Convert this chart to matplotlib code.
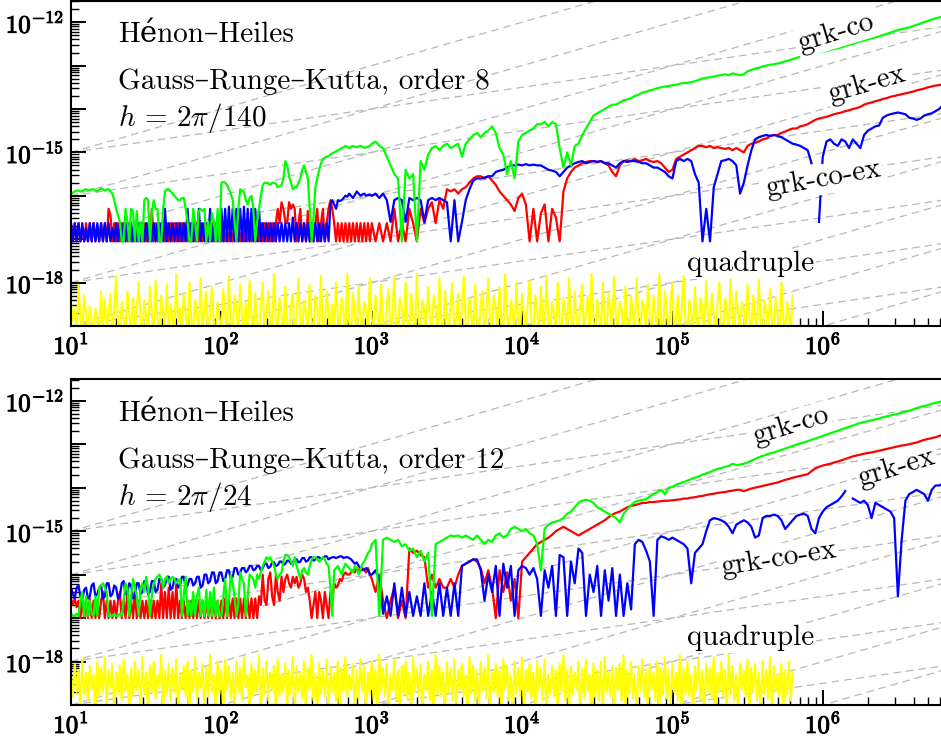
import numpy as np
import matplotlib
matplotlib.use("Agg")
import matplotlib.pyplot as plt
from matplotlib import patheffects
from matplotlib.ticker import LogLocator, FuncFormatter, NullFormatter

plt.rcParams['font.family'] = ['cmr10', 'DejaVu Serif']
plt.rcParams['mathtext.fontset'] = 'cm'
plt.rcParams['axes.unicode_minus'] = False

T_END = 2 * np.pi * 1e6       # 10^6 periods
T_END_QUAD = 2 * np.pi * 1e5  # quadruple run is 10x shorter

# log10 of the relative energy error.
# *_head: t from 10^1 to 10^2.99 (fine log grid, the noisy part)
# *_tail: t from 10^3 to the end
# ---------------- order 8, h = 2pi/140 ----------------
co_8_head = [
    -15.95, -15.93, -15.9, -15.88, -15.88, -15.9, -15.9, -15.86, -15.85, -15.87, -15.87, -15.85, -15.85, -15.88, -15.9, -15.86, -15.83, -15.85, -15.88, -15.85,
    -15.85, -15.9, -15.95, -16.1, -16.3, -16.45, -16.6, -17.05, -17.05, -16.3, -16.6, -17.05, -16.3, -16.35, -17.05, -16.35, -17.05, -16.6, -17.05, -16.1,
    -16.05, -16.1, -17.05, -16.4, -16.1, -16.3, -16.3, -17.05, -17.05, -16.3, -15.9, -15.85, -15.85, -15.9, -15.95, -16.0, -16.05, -16.1, -16.1, -16.05,
    -16.05, -16.3, -16.6, -17.05, -17.05, -16.3, -16.6, -17.05, -16.35, -16.3, -16.35, -16.3, -17.05, -16.6, -17.05, -16.4, -16.6, -17.05, -16.3, -17.05,
    -15.7, -15.68, -15.7, -15.75, -15.85, -15.95, -16.1, -16.6, -17.05, -16.3, -15.85, -15.9, -15.9, -16.1, -16.2, -16.05, -16.0, -16.3, -17.05, -16.6,
    -16.3, -16.0, -15.75, -15.7, -15.7, -15.72, -15.75, -15.7, -15.7, -15.72, -15.8, -15.78, -15.75, -15.6, -15.2, -15.3, -15.55, -15.7, -15.85, -15.8,
    -15.8, -15.7, -15.6, -15.4, -15.3, -15.45, -15.6, -16.3, -17.05, -16.5, -15.8, -15.6, -15.4, -15.25, -15.15, -15.12, -15.1, -15.08, -15.05, -15.02,
    -15.0, -14.98, -14.95, -14.93, -14.9, -14.88, -14.85, -14.88, -14.9, -14.87, -14.85, -14.87, -14.88, -14.86, -14.85, -14.87, -14.9, -14.88, -14.87, -14.85,
]
co_8_tail = [
    -14.8, -14.75, -14.85, -14.9, -15.1, -15.3, -15.5, -15.6, -17.05, -15.4, -15.6, -15.5, -17.05, -15.2, -15.4, -15.05, -14.9, -14.85, -14.95, -14.85,
    -14.8, -14.9, -14.85, -14.8, -15.1, -14.8, -14.7, -14.6, -14.55, -14.65, -14.55, -14.5, -14.4, -14.55, -14.9, -15.05, -15.5, -15.2, -15.6, -14.75,
    -14.6, -14.55, -14.5, -14.45, -14.35, -14.35, -14.3, -14.4, -14.3, -14.35, -14.9, -15.35, -15.0, -15.3, -14.85, -14.8, -14.6, -14.45, -14.3, -14.15,
    -14.1, -14.05, -14.0, -13.95, -13.9, -13.9, -13.85, -13.8, -13.78, -13.75, -13.7, -13.67, -13.62, -13.6, -13.57, -13.55, -13.52, -13.5, -13.48, -13.47,
    -13.45, -13.44, -13.42, -13.4, -13.4, -13.38, -13.36, -13.33, -13.3, -13.28, -13.27, -13.25, -13.23, -13.22, -13.2, -13.22, -13.18, -13.2, -13.22, -13.2,
    -13.13, -13.1, -13.07, -13.05, -13.02, -13.0, -12.98, -12.97, -12.95, -12.93, -12.9, -12.88, -12.85, -12.82, -12.8, -12.78, -12.76, -12.74, -12.72, -12.7,
    -12.68, -12.66, -12.64, -12.62, -12.6, -12.58, -12.55, -12.52, -12.5, -12.47, -12.44, -12.42, -12.4, -12.37, -12.35, -12.32, -12.3, -12.27, -12.24, -12.21,
    -12.18, -12.16, -12.14, -12.12, -12.09, -12.06, -12.03, -12.0, -11.97, -11.94, -11.91, -11.89, -11.87,
]
ex_8_head = [
    -16.63, -17.05, -16.63, -17.05, -16.63, -17.05, -16.75, -17.05, -16.63, -17.05, -16.63, -17.05, -16.63, -17.05, -16.75, -17.05, -16.63, -17.05, -16.63, -17.05,
    -16.3, -16.45, -17.05, -16.63, -17.05, -16.63, -17.05, -16.63, -17.05, -16.63, -17.05, -16.63, -17.05, -16.75, -17.05, -16.63, -17.05, -16.63, -17.05, -16.63,
    -17.05, -16.63, -17.05, -16.3, -17.05, -16.63, -17.05, -16.63, -17.05, -16.63, -17.05, -16.63, -17.05, -16.63, -17.05, -16.63, -17.05, -16.63, -17.05, -16.63,
    -17.05, -16.63, -17.05, -16.63, -17.05, -16.63, -17.05, -16.63, -17.05, -16.63, -17.05, -16.63, -17.05, -16.63, -17.05, -16.63, -17.05, -16.63, -17.05, -16.63,
    -17.05, -16.75, -17.05, -16.75, -17.05, -16.75, -17.05, -16.75, -17.05, -16.75, -17.05, -16.75, -17.05, -16.63, -17.05, -16.63, -17.05, -16.63, -17.05, -16.63,
    -17.05, -16.63, -17.05, -16.63, -17.05, -16.63, -17.05, -16.63, -17.05, -16.63, -16.3, -16.63, -16.15, -16.3, -16.6, -16.63, -16.15, -16.3, -16.2, -16.3,
    -17.05, -16.63, -16.3, -17.05, -16.63, -17.05, -16.35, -17.05, -16.63, -17.05, -16.63, -16.3, -17.05, -16.63, -16.3, -17.05, -16.63, -16.3, -16.1, -16.3,
    -16.63, -17.05, -16.63, -17.05, -16.63, -17.05, -16.63, -17.05, -16.63, -17.05, -16.63, -17.05, -16.63, -17.05, -16.63, -17.05, -16.63, -17.05, -16.63, -17.05,
]
ex_8_tail = [
    -16.63, -17.05, -16.63, -17.05, -16.63, -17.05, -16.3, -17.05, -16.63, -17.05, -16.3, -16.63, -17.05, -16.3, -16.63, -16.3, -16.15, -16.63, -16.1, -16.3,
    -15.85, -15.9, -15.85, -15.95, -15.85, -15.8, -15.7, -15.6, -15.55, -15.55, -15.6, -15.55, -15.65, -15.75, -15.9, -16.0, -16.1, -16.2, -16.35, -16.05,
    -15.95, -16.2, -17.05, -16.3, -17.05, -16.4, -16.2, -17.05, -16.3, -16.5, -17.05, -15.9, -15.6, -15.45, -15.35, -15.3, -15.25, -15.22, -15.2, -15.2,
    -15.22, -15.2, -15.25, -15.3, -15.45, -15.55, -15.3, -15.2, -15.18, -15.2, -15.15, -15.2, -15.18, -15.15, -15.2, -15.22, -15.2, -15.25, -15.35, -15.45,
    -15.4, -15.15, -15.1, -15.05, -15.0, -14.95, -14.9, -14.85, -14.85, -14.88, -14.85, -14.9, -14.88, -14.9, -14.92, -14.9, -14.95, -14.9, -14.95, -15.0,
    -14.85, -14.8, -14.78, -14.75, -14.7, -14.68, -14.62, -14.6, -14.6, -14.55, -14.52, -14.48, -14.45, -14.45, -14.4, -14.38, -14.35, -14.3, -14.25, -14.22,
    -14.2, -14.18, -14.15, -14.12, -14.1, -14.08, -14.05, -14.03, -14.0, -13.98, -13.95, -13.9, -13.87, -13.85, -13.82, -13.8, -13.77, -13.75, -13.72, -13.7,
    -13.68, -13.66, -13.64, -13.62, -13.6, -13.57, -13.55, -13.53, -13.5, -13.48, -13.46, -13.45, -13.43,
]
coex_8_head = [
    -16.63, -17.05, -16.63, -17.05, -16.63, -17.05, -16.63, -17.05, -16.75, -17.05, -16.63, -17.05, -16.63, -17.05, -16.63, -17.05, -16.63, -17.05, -16.63, -17.05,
    -16.63, -17.05, -16.75, -17.05, -16.63, -17.05, -16.63, -17.05, -16.63, -17.05, -16.63, -17.05, -16.63, -17.05, -16.75, -17.05, -16.63, -17.05, -16.63, -17.05,
    -16.63, -17.05, -16.63, -17.05, -16.63, -17.05, -16.63, -17.05, -16.63, -17.05, -16.3, -17.05, -16.63, -17.05, -16.63, -17.05, -16.63, -17.05, -16.63, -17.05,
    -16.63, -17.05, -16.3, -17.05, -16.63, -17.05, -16.63, -17.05, -16.3, -17.05, -16.63, -17.05, -16.63, -17.05, -16.3, -17.05, -16.63, -17.05, -16.63, -17.05,
    -16.3, -17.05, -16.3, -17.05, -16.25, -17.05, -16.3, -17.05, -16.3, -17.05, -16.3, -17.05, -16.25, -17.05, -16.3, -17.05, -16.3, -17.05, -16.3, -17.05,
    -16.3, -17.05, -16.63, -17.05, -16.63, -17.05, -16.63, -17.05, -16.63, -17.05, -16.63, -17.05, -16.63, -17.05, -16.63, -17.05, -16.63, -17.05, -16.5, -17.05,
    -16.63, -17.05, -16.63, -17.05, -16.63, -17.05, -16.63, -17.05, -16.63, -17.05, -16.63, -17.05, -16.63, -17.05, -16.63, -17.05, -16.63, -17.05, -16.2, -16.1,
    -16.2, -16.3, -16.1, -16.12, -16.1, -16.05, -16.0, -16.02, -15.95, -16.0, -16.05, -15.98, -15.9, -15.95, -16.0, -15.97, -15.95, -16.0, -15.98, -15.97,
]
coex_8_tail = [
    -16.0, -15.95, -16.05, -15.95, -16.1, -16.6, -16.1, -16.05, -16.1, -16.6, -16.05, -16.1, -16.05, -16.1, -16.6, -16.1, -16.05, -16.1, -16.05, -16.1,
    -16.15, -17.05, -16.1, -17.05, -16.6, -16.1, -15.85, -15.65, -15.6, -15.6, -15.58, -15.55, -15.55, -15.45, -15.42, -15.4, -15.35, -15.3, -15.3, -15.28,
    -15.3, -15.27, -15.3, -15.28, -15.3, -15.3, -15.35, -15.4, -15.42, -15.45, -15.55, -15.45, -15.35, -15.3, -15.25, -15.22, -15.2, -15.25, -15.22, -15.2,
    -15.22, -15.2, -15.25, -15.25, -15.3, -15.35, -15.25, -15.2, -15.22, -15.2, -15.2, -15.22, -15.25, -15.25, -15.3, -15.35, -15.35, -15.4, -15.45, -15.55,
    -15.6, -15.2, -15.15, -15.2, -15.15, -15.2, -15.5, -15.7, -17.05, -16.3, -17.05, -15.8, -15.5, -15.2, -15.18, -15.15, -15.2, -15.3, -15.95, -15.7,
    -15.3, -14.95, -14.7, -14.65, -14.62, -14.6, -14.62, -14.6, -14.62, -14.65, -14.7, -14.75, -14.8, -14.82, -14.85, -14.9, -14.95, -15.25, np.nan, -16.6,
    -15.1, -14.75, -14.7, -14.8, -14.85, -14.7, -14.75, -14.9, -14.7, -14.8, -14.9, -14.6, -14.5, -14.45, -14.4, -14.38, -14.2, -14.15, -14.12, -14.1,
    -14.08, -14.1, -14.12, -14.2, -14.22, -14.25, -14.22, -14.15, -14.12, -14.1, -14.05, -14.0, -13.9,
]
quad_8 = [
    -18.45, -18.9, -18.6, -19.2, -18.05, -18.8, -19.2, -18.3, -18.7, -19.2, -18.55, -18.9, -19.2, -18.6, -18.85, -19.2, -18.2, -19.0, -18.4, -19.2,
    -18.7, -18.25, -19.2, -18.6, -17.85, -18.95, -19.2, -18.45, -18.8, -19.2, -18.2, -18.75, -19.1, -18.35, -19.2, -18.6, -18.0, -18.9, -19.2, -18.4,
    -18.8, -19.2, -18.1, -18.7, -19.2, -17.95, -18.85, -19.2, -18.3, -18.65, -19.0, -18.05, -19.2, -18.5, -18.8, -19.2, -17.8, -18.9, -18.6, -19.2,
    -18.25, -18.7, -19.2, -18.0, -18.85, -19.2, -18.4, -18.75, -19.1, -17.9, -19.2, -18.55, -18.2, -19.2, -18.7, -18.1, -18.95, -19.2, -18.45, -18.8,
    -19.2, -18.15, -18.7, -19.2, -17.85, -18.9, -19.2, -18.3, -18.6, -19.2, -18.05, -18.8, -19.1, -18.45, -19.2, -17.95, -18.75, -19.2, -18.25, -18.9,
    -19.2, -18.5, -18.0, -19.2, -18.7, -18.2, -18.95, -19.2, -17.8, -18.85, -19.2, -18.35, -18.7, -19.2, -18.1, -18.9, -19.2, -18.55, -18.25, -19.2,
    -18.8, -17.9, -18.9, -19.2, -18.4, -18.7, -19.2, -18.05, -18.85, -19.2, -18.3, -18.6, -19.2, -17.85, -18.95, -19.2, -18.2, -18.75, -19.1, -18.5,
    -19.2, -18.0, -18.8, -19.2, -18.35, -18.65, -19.2, -17.8, -18.9, -19.2, -18.25, -18.7, -19.2, -18.1, -18.85, -19.2, -18.45, -18.6, -19.2, -17.9,
    -18.8, -19.2, -18.3, -18.7, -19.2, -18.05, -18.9, -19.2, -18.5, -18.15, -19.2, -18.75, -17.85, -19.0, -19.2, -18.35, -18.6, -19.2, -18.0, -18.85,
    -19.2, -18.25, -18.7, -19.2, -17.8, -18.9, -19.2, -18.4, -18.65, -19.2, -18.1, -18.8, -19.2, -18.3, -18.55, -19.2, -17.9, -18.85, -19.2, -18.2,
    -18.7, -19.2, -18.45, -18.0, -19.2, -18.8, -18.25, -19.2, -18.6, -17.85, -18.95, -19.2, -18.35, -18.7, -19.2, -18.05, -18.8, -19.2, -18.5, -18.2,
    -19.2, -18.75, -17.9, -18.9, -19.2, -18.3, -18.6, -19.2, -18.1, -18.85, -19.2, -17.8, -18.7, -19.2, -18.4, -18.65, -19.2, -18.0, -18.9, -19.2,
    -18.25, -18.75, -19.2, -18.5, -17.95, -18.85, -19.2, -18.3, -18.6, -19.2, -18.1, -18.8, -19.2, -17.85, -18.9, -19.2, -18.45, -18.7, -19.2, -18.0,
    -18.85, -19.2, -18.35, -18.6, -19.2, -17.9, -18.75, -19.2, -18.2, -18.9, -19.2, -18.5, -18.05, -19.2, -18.7, -18.3, -19.2, -17.8, -18.85, -19.2,
    -18.4, -18.7, -19.2, -18.0, -18.9, -19.2, -18.25, -18.65, -19.2, -17.85, -18.8, -19.2, -18.45, -18.6, -19.2, -18.1, -18.9, -19.2, -18.3, -18.75,
    -19.2, -17.9, -18.85, -19.2, -18.4, -18.6, -19.2, -18.05, -18.8, -19.2, -18.3, -18.7, -19.2, -17.8, -18.9, -19.2, -18.2, -18.65, -19.2, -18.5,
    -18.0, -19.2, -18.75, -18.3, -19.2, -18.6, -17.85, -18.9, -19.2, -18.4, -18.7, -19.2, -18.1, -18.85, -19.2, -18.35, -18.6, -19.2, -17.95, -18.8,
    -19.2, -18.25, -18.7, -19.2, -18.5, -18.0, -18.9, -19.2, -18.35, -18.65, -19.2, -17.8, -18.85, -19.2, -18.2, -18.75, -19.2, -18.45, -18.6, -19.2,
    -18.05, -18.8, -19.2, -18.3, -18.7, -19.2, -17.9, -18.85, -19.2, -18.4, -18.65, -19.2, -18.15, -18.9, -19.2, -18.35, -18.7, -19.2, -18.0, -18.8,
    -19.2, -18.45, -18.7, -19.2, -18.3,
]

# ---------------- order 12, h = 2pi/24 ----------------
co_12_head = [
    -16.9, -16.95, -16.95, -16.9, -16.95, -16.6, -16.4, -16.95, -16.5, -16.95, -16.6, -16.9, -16.95, -16.5, -16.95, -16.3, -16.25, -16.2, -16.3, -16.4,
    -16.95, -16.95, -16.95, -16.9, -16.95, -16.95, -16.9, -16.95, -16.6, -16.2, -16.3, -16.95, -16.5, -16.1, -16.3, -16.5, -16.95, -16.3, -16.2, -16.4,
    -16.05, -16.3, -16.95, -16.5, -16.2, -16.1, -16.05, -16.0, -16.1, -16.3, -16.1, -16.05, -16.2, -16.1, -16.05, -16.1, -16.2, -16.15, -16.1, -16.95,
    -16.5, -16.05, -16.95, -16.6, -16.95, -16.4, -16.95, -16.5, -16.3, -16.95, -16.6, -16.95, -16.35, -16.95, -16.4, -16.95, -16.3, -16.95, -16.6, -16.95,
    -16.95, -16.5, -16.1, -16.95, -16.6, -16.0, -16.2, -16.5, -16.95, -16.7, -15.95, -16.1, -16.2, -16.95, -16.5, -16.0, -16.05, -16.1, -16.3, -16.0,
    -16.1, -15.95, -15.8, -15.7, -15.6, -15.65, -15.6, -15.7, -15.8, -16.0, -16.1, -16.0, -15.95, -15.7, -15.55, -15.55, -15.6, -15.7, -15.8, -15.6,
    -15.8, -15.95, -16.1, -15.9, -15.85, -15.95, -16.0, -15.8, -15.65, -15.6, -15.6, -15.65, -15.7, -15.65, -15.6, -15.65, -15.75, -15.8, -16.3, -16.95,
    -15.9, -15.85, -15.8, -15.9, -16.0, -15.85, -15.75, -15.8, -15.85, -15.9, -15.95, -15.8, -15.85, -16.0, -15.9, -15.75, -15.7, -15.6, -15.5, -15.45,
]
co_12_tail = [
    -15.3, -15.2, -16.95, -15.2, -15.15, -15.2, -15.25, -15.2, -15.35, -15.3, -15.45, -15.4, -15.6, -15.45, -15.7, -15.5, -16.95, -15.3, -15.25, -15.2,
    -15.15, -15.1, -15.12, -15.1, -15.15, -15.1, -15.15, -15.2, -15.1, -15.2, -15.3, -15.2, -15.25, -15.1, -15.05, -15.15, -15.1, -14.95, -14.9, -14.95,
    -15.0, -14.95, -15.05, -15.1, -15.3, -15.9, -14.95, -14.85, -14.8, -14.78, -14.75, -14.7, -14.6, -14.55, -14.45, -14.35, -14.3, -14.28, -14.3, -14.35,
    -14.45, -14.5, -14.55, -14.6, -14.65, -14.7, -14.8, -14.6, -14.5, -14.4, -14.33, -14.3, -14.28, -14.27, -14.2, -14.15, -14.1, -14.05, -14.15, -14.0,
    -13.98, -13.93, -13.9, -13.87, -13.84, -13.8, -13.77, -13.74, -13.7, -13.67, -13.64, -13.6, -13.57, -13.55, -13.52, -13.5, -13.45, -13.48, -13.47, -13.45,
    -13.42, -13.38, -13.34, -13.3, -13.27, -13.24, -13.21, -13.19, -13.16, -13.13, -13.1, -13.07, -13.04, -13.01, -12.98, -12.96, -12.93, -12.9, -12.87, -12.84,
    -12.81, -12.78, -12.75, -12.72, -12.69, -12.66, -12.63, -12.6, -12.57, -12.54, -12.51, -12.49, -12.47, -12.45, -12.43, -12.41, -12.38, -12.36, -12.34, -12.32,
    -12.3, -12.28, -12.25, -12.23, -12.2, -12.17, -12.14, -12.12, -12.1, -12.07, -12.05, -12.03, -12.0,
]
ex_12_head = [
    -16.55, -16.7, -16.55, -16.75, -16.6, -17.0, -16.6, -17.0, -16.6, -17.0, -16.55, -17.0, -16.6, -17.0, -16.6, -17.0, -16.6, -16.4, -17.0, -16.6,
    -17.0, -16.6, -17.0, -16.6, -17.0, -16.6, -16.4, -17.0, -16.6, -17.0, -16.4, -17.0, -16.6, -17.0, -16.4, -17.0, -16.6, -17.0, -16.6, -17.0,
    -16.6, -17.0, -16.6, -17.0, -16.6, -17.0, -16.6, -17.0, -16.2, -17.0, -16.4, -17.0, -16.3, -17.0, -16.4, -17.0, -16.2, -17.0, -16.6, -17.0,
    -16.6, -17.0, -16.6, -17.0, -16.6, -17.0, -16.6, -17.0, -16.6, -17.0, -16.6, -17.0, -16.6, -17.0, -16.6, -17.0, -16.6, -17.0, -16.6, -17.0,
    -16.6, -17.0, -16.55, -17.0, -16.55, -17.0, -16.55, -17.0, -16.55, -17.0, -16.55, -17.0, -16.55, -17.0, -16.55, -17.0, -16.55, -17.0, -16.55, -17.0,
    -16.5, -16.7, -16.0, -16.6, -16.7, -16.1, -15.95, -16.5, -16.7, -16.0, -16.4, -16.6, -16.05, -16.4, -16.1, -16.0, -16.2, -16.3, -16.05, -16.2,
    -16.05, -16.3, -16.2, -16.0, -16.1, -16.4, -16.3, -16.6, -17.0, -16.7, -16.4, -17.0, -16.4, -16.6, -17.0, -16.4, -16.7, -17.0, -16.4, -16.6,
    -16.2, -16.3, -16.25, -16.1, -16.15, -16.0, -15.95, -16.0, -16.0, -15.95, -15.9, -15.95, -15.85, -15.9, -15.9, -15.85, -15.9, -15.95, -15.85, -16.0,
]
ex_12_tail = [
    -16.1, -16.4, -16.0, -16.6, -17.0, -16.6, -16.3, -17.0, -16.6, -17.0, -15.4, -15.5, -15.45, -15.55, -15.6, -16.3, -16.0, -16.3, -16.1, -16.3,
    -16.3, -16.1, -16.3, -16.0, -15.8, -15.75, -15.7, -15.65, -15.7, -15.85, -16.2, -15.9, -16.3, -17.0, -15.9, -16.4, -15.95, -16.6, -16.1, -17.0,
    -15.7, -15.6, -15.5, -15.4, -15.3, -15.25, -15.2, -15.15, -15.08, -15.0, -14.95, -14.9, -14.95, -15.0, -15.05, -15.1, -15.05, -15.0, -14.95, -14.9,
    -14.85, -14.8, -14.75, -14.68, -14.62, -14.58, -14.55, -14.5, -14.45, -14.42, -14.4, -14.38, -14.35, -14.35, -14.33, -14.33, -14.32, -14.31, -14.3, -14.3,
    -14.29, -14.28, -14.27, -14.25, -14.25, -14.23, -14.22, -14.2, -14.19, -14.17, -14.15, -14.14, -14.12, -14.11, -14.1, -14.08, -14.07, -14.05, -14.05, -14.08,
    -14.05, -14.02, -14.0, -13.98, -13.96, -13.94, -13.92, -13.9, -13.88, -13.85, -13.82, -13.8, -13.77, -13.75, -13.73, -13.71, -13.69, -13.62, -13.56, -13.52,
    -13.49, -13.47, -13.45, -13.42, -13.4, -13.37, -13.34, -13.31, -13.28, -13.26, -13.24, -13.22, -13.2, -13.19, -13.17, -13.15, -13.13, -13.11, -13.09, -13.07,
    -13.05, -13.03, -13.02, -13.0, -12.98, -12.96, -12.93, -12.9, -12.88, -12.86, -12.84, -12.81, -12.78,
]
coex_12_head = [
    -16.3, -16.45, -16.55, -16.3, -16.25, -16.5, -16.6, -16.35, -16.3, -16.55, -16.5, -16.25, -16.2, -16.5, -16.45, -16.3, -16.25, -16.55, -16.5, -16.2,
    -16.2, -16.5, -16.45, -16.25, -16.3, -16.55, -16.5, -16.2, -16.15, -16.45, -16.4, -16.2, -16.25, -16.55, -16.5, -16.2, -16.2, -16.45, -16.4, -16.15,
    -16.2, -16.45, -16.4, -16.15, -16.15, -16.4, -16.35, -16.1, -16.1, -16.3, -16.25, -16.05, -16.05, -16.35, -16.3, -16.1, -16.1, -16.3, -16.25, -16.05,
    -16.05, -16.3, -16.25, -16.1, -16.1, -16.25, -16.2, -16.05, -16.05, -16.3, -16.25, -16.0, -16.0, -16.2, -16.15, -15.95, -15.95, -16.2, -16.15, -15.95,
    -15.95, -16.15, -16.1, -15.9, -15.9, -16.1, -16.05, -15.85, -15.85, -16.0, -15.95, -15.85, -15.85, -15.95, -15.9, -15.8, -15.8, -15.9, -15.88, -15.8,
    -15.8, -15.9, -15.85, -15.75, -15.75, -15.85, -15.82, -15.72, -15.72, -15.8, -15.78, -15.7, -15.7, -15.78, -15.75, -15.68, -15.68, -15.75, -15.72, -15.65,
    -15.65, -15.72, -15.7, -15.62, -15.62, -15.7, -15.68, -15.6, -15.6, -15.68, -15.65, -15.6, -15.6, -15.65, -15.62, -15.58, -15.58, -15.65, -15.62, -15.6,
    -15.6, -15.62, -15.6, -15.58, -15.58, -15.62, -15.6, -15.6, -15.62, -15.65, -15.7, -15.75, -15.72, -15.8, -15.85, -15.9, -15.88, -15.85, -15.9, -16.0,
]
coex_12_tail = [
    -16.0, -15.9, -16.1, -16.9, -16.5, -16.95, -16.2, -16.95, -16.3, -16.95, -16.4, -16.95, -16.5, -16.95, -16.2, -16.95, -16.4, -16.95, -16.2, -16.95,
    -16.3, -16.95, -16.2, -16.95, -15.8, -15.75, -15.7, -15.65, -15.65, -15.9, -16.6, -16.0, -16.4, -15.8, -16.95, -15.75, -16.3, -15.8, -16.95, -15.9,
    -15.8, -15.85, -16.0, -15.85, -16.1, -16.95, -15.9, -16.3, -15.8, -16.95, -15.55, -15.6, -16.95, -15.7, -16.2, -15.4, -15.5, -16.95, -16.0, -16.4,
    -15.8, -16.95, -15.9, -16.6, -15.85, -16.95, -16.0, -16.95, -16.2, -16.8, -15.3, -15.2, -15.25, -15.45, -15.7, -16.95, -15.2, -15.12, -15.15, -15.2,
    -15.15, -15.2, -15.25, -15.3, -15.4, -16.2, -15.5, -15.4, -15.3, -15.0, -14.75, -14.7, -14.72, -14.75, -14.8, -14.9, -15.05, -14.85, -14.8, -14.75,
    -14.8, -14.9, -15.15, -15.1, -14.7, -14.65, -14.65, -14.62, -14.65, -14.75, -14.95, -14.85, -14.75, -14.65, -14.62, -14.6, -14.65, -14.95, -15.05, -14.7,
    -14.55, -14.45, -14.4, -14.35, -14.3, -14.2, -14.08, np.nan, -14.25, -14.3, -14.35, -14.3, -14.4, -14.7, -14.35, -14.4, -14.45, -14.5, -14.55, -14.7,
    -16.5, -15.2, -14.3, -14.15, -14.1, -14.05, -14.1, -14.15, -14.3, -14.05, -13.95, -13.95, -13.9,
]
quad_12 = [
    -18.3, -18.8, -18.05, -18.7, -18.2, -19.2, -17.95, -18.75, -18.25, -18.9, -18.1, -18.65, -18.3, -19.2, -18.0, -18.8, -18.15, -18.7, -17.9, -19.0,
    -18.2, -18.6, -18.05, -19.2, -18.25, -18.75, -18.1, -18.9, -17.95, -18.7, -18.3, -19.2, -18.15, -18.8, -18.0, -18.65, -18.2, -19.1, -17.9, -18.75,
    -18.25, -19.2, -18.1, -18.7, -18.0, -18.85, -18.3, -18.6, -17.85, -19.2, -18.2, -18.75, -18.05, -18.9, -18.15, -18.7, -17.95, -19.2, -18.3, -18.65,
    -18.1, -18.8, -18.0, -19.2, -18.2, -18.7, -17.9, -18.9, -18.25, -18.6, -18.05, -19.2, -18.15, -18.8, -17.85, -18.7, -18.3, -19.0, -18.0, -18.75,
    -18.2, -19.2, -17.95, -18.65, -18.1, -18.85, -18.25, -19.2, -18.0, -18.7, -18.15, -18.9, -17.9, -18.6, -18.3, -19.2, -18.05, -18.8, -18.2, -18.7,
    -17.85, -19.2, -18.15, -18.75, -18.0, -18.9, -18.25, -18.65, -18.1, -19.2, -17.95, -18.8, -18.3, -18.7, -18.05, -19.1, -18.2, -18.75, -17.9, -19.2,
    -18.1, -18.7, -18.25, -18.85, -18.0, -19.2, -18.15, -18.65, -17.85, -18.9, -18.3, -19.2, -18.05, -18.75, -18.2, -18.8, -17.95, -19.2, -18.1, -18.7,
    -18.25, -18.9, -18.0, -19.2, -18.15, -18.7, -17.9, -18.8, -18.3, -18.65, -18.05, -19.2, -18.2, -18.85, -17.95, -18.7, -18.1, -19.2, -18.25, -18.75,
    -18.0, -18.9, -18.2, -19.2, -17.85, -18.7, -18.15, -18.8, -18.05, -19.2, -18.3, -18.65, -17.95, -18.9, -18.2, -19.2, -18.1, -18.75, -18.0, -18.85,
    -18.25, -19.2, -17.9, -18.7, -18.15, -18.8, -18.05, -19.2, -18.3, -18.65, -18.0, -18.9, -18.2, -19.2, -17.85, -18.75, -18.1, -18.8, -18.25, -19.2,
    -18.0, -18.7, -18.15, -18.9, -17.95, -19.2, -18.2, -18.65, -18.05, -18.8, -18.3, -19.2, -17.9, -18.75, -18.1, -18.9, -18.2, -19.2, -18.0, -18.7,
    -18.15, -18.85, -17.85, -19.2, -18.25, -18.7, -18.05, -18.8, -18.2, -19.2, -17.95, -18.65, -18.1, -18.9, -18.3, -19.2, -18.0, -18.75, -18.15, -18.8,
    -17.9, -19.2, -18.2, -18.7, -18.05, -18.85, -18.25, -19.2, -18.0, -18.65, -18.15, -18.9, -17.95, -19.2, -18.3, -18.75, -18.1, -18.8, -18.2, -19.2,
    -18.05, -18.7, -17.85, -18.9, -18.2, -19.2, -18.1, -18.75, -18.25, -18.65, -18.0, -19.2, -18.15, -18.85, -17.95, -18.7, -18.3, -19.2, -18.05, -18.8,
    -18.2, -18.9, -18.0, -19.2, -17.9, -18.7, -18.25, -18.8, -18.1, -19.2, -18.15, -18.65, -18.05, -18.9, -17.85, -19.2, -18.2, -18.75, -18.0, -18.85,
    -18.3, -19.2, -18.1, -18.7, -17.95, -18.8, -18.2, -19.2, -18.05, -18.65, -18.25, -18.9, -18.0, -19.2, -18.15, -18.75, -17.9, -18.85, -18.2, -19.2,
    -18.05, -18.7, -18.25, -18.9, -17.85, -19.2, -18.15, -18.75, -18.0, -18.8, -18.3, -19.2, -18.1, -18.65, -17.95, -18.9, -18.2, -19.2, -18.05, -18.7,
    -18.15, -18.85, -17.9, -19.2, -18.25, -18.7, -18.0, -18.8, -18.2, -19.2, -17.85, -18.75, -18.1, -18.9, -18.3, -19.2, -18.05, -18.65, -18.2, -18.8,
    -17.95, -19.2, -18.15, -18.7, -18.05, -18.9, -18.25, -19.2, -18.0, -18.75, -18.2, -18.85, -17.9, -19.2, -18.1, -18.7, -18.3, -18.8, -18.05, -19.2,
    -18.2, -18.75, -18.0, -18.9, -18.25,
]

panels = [
    dict(series=[(ex_8_head, ex_8_tail), (coex_8_head, coex_8_tail), (co_8_head, co_8_tail)],
         quad=quad_8, order=8, step='2\\pi/140',
         labels=[('grk-co', 1.22e6, -12.24, 17), ('grk-ex', 1.96e6, -13.43, 16),
                 ('grk-co-ex', 1.0e6, -15.62, 10)], quad_lab=(3.3e5, -17.74)),
    dict(series=[(ex_12_head, ex_12_tail), (coex_12_head, coex_12_tail), (co_12_head, co_12_tail)],
         quad=quad_12, order=12, step='2\\pi/24',
         labels=[('grk-co', 6.1e5, -12.59, 17), ('grk-ex', 3.1e6, -13.55, 17),
                 ('grk-co-ex', 5.1e5, -15.64, 9)], quad_lab=(3.3e5, -17.62)),
]
colors = ['#ff0000', '#0000ff', '#00ff00']

# reference lines c*t^(1/2) and c*t through every decade at t = 10
ref_decades = np.arange(-25, -14)
ref_powers = [0.5, 1.0]

fig = plt.figure(figsize=(9.41, 7.40), dpi=100)
rects = [[71 / 941, 414 / 740, 872 / 941, 325.5 / 740],
         [71 / 941, 35 / 740, 872 / 941, 326 / 740]]


def ylab(v, pos):
    e = int(round(np.log10(v)))
    return r'$\mathbf{10^{%d}}$' % e if e in (-12, -15, -18) else ''


def xlab(v, pos):
    return r'$\mathbf{10^{%d}}$' % int(round(np.log10(v)))


axes = []
for rect, p in zip(rects, panels):
    ax = fig.add_axes(rect)
    axes.append(ax)
    ax.set_xscale('log')
    ax.set_yscale('log')

    tr = np.array([10.0, T_END])
    for d in ref_decades:
        for k in ref_powers:
            ax.plot(tr, 10.0 ** d * (tr / 10) ** k, color='#b8b8b8', lw=0.9,
                    ls=(0, (6, 4)), zorder=1)

    for (head, tail), c in zip(p['series'], colors):
        t = np.concatenate([np.logspace(1, 1 + 0.0125 * (len(head) - 1), len(head)),
                            np.logspace(3, np.log10(T_END), len(tail))])
        ax.plot(t, 10.0 ** np.array(head + tail), color=c, lw=1.6, zorder=2)
    tq = np.logspace(1, np.log10(T_END_QUAD), len(p['quad']))
    ax.plot(tq, 10.0 ** np.array(p['quad']), color='#ffff00', lw=1.5, zorder=2)

    ax.set_xlim(10, T_END)
    ax.set_ylim(1e-19, 10 ** -11.5)

    ax.xaxis.set_major_locator(LogLocator(base=10, numticks=20))
    ax.xaxis.set_minor_locator(LogLocator(base=10, subs=np.arange(2, 10), numticks=20))
    ax.yaxis.set_major_locator(LogLocator(base=10, numticks=20))
    ax.yaxis.set_minor_locator(LogLocator(base=10, subs=np.arange(2, 10), numticks=20))
    ax.xaxis.set_major_formatter(FuncFormatter(xlab))
    ax.yaxis.set_major_formatter(FuncFormatter(ylab))
    ax.xaxis.set_minor_formatter(NullFormatter())
    ax.yaxis.set_minor_formatter(NullFormatter())
    ax.tick_params(which='major', direction='in', length=11, width=1.4, labelsize=18, pad=5)
    ax.tick_params(which='minor', direction='in', length=5.5, width=1.0)
    ax.tick_params(top=False, right=False)
    for s in ax.spines.values():
        s.set_linewidth(1.5)

    fs = 21
    ax.text(0.054, 0.872, 'Hénon–Heiles', transform=ax.transAxes,
            fontsize=fs, va='baseline', ha='left', zorder=4)
    ax.text(0.054, 0.728, 'Gauss–Runge–Kutta, order %d' % p['order'],
            transform=ax.transAxes, fontsize=fs, va='baseline', ha='left', zorder=4)
    ax.text(0.054, 0.615, r'$h\, =\, %s$' % p['step'], transform=ax.transAxes,
            fontsize=fs, va='baseline', ha='left', zorder=4)

    box = dict(facecolor='white', edgecolor='none', pad=1.5)
    for txt, tx, ly, rot in p['labels']:
        ax.text(tx, 10 ** ly, txt, fontsize=fs, rotation=rot, rotation_mode='anchor',
                ha='center', va='center', bbox=box, zorder=3)
    qx, qy = p['quad_lab']
    ax.text(qx, 10 ** qy, 'quadruple', fontsize=fs, ha='center', va='baseline',
            bbox=box, zorder=3)

# heavier tick labels, like bold extended TeX digits
fig.canvas.draw()
for ax in axes:
    for lbl in ax.get_xticklabels() + ax.get_yticklabels():
        lbl.set_path_effects([patheffects.withStroke(linewidth=0.7, foreground='black')])

fig.savefig('out.png', dpi=100)
